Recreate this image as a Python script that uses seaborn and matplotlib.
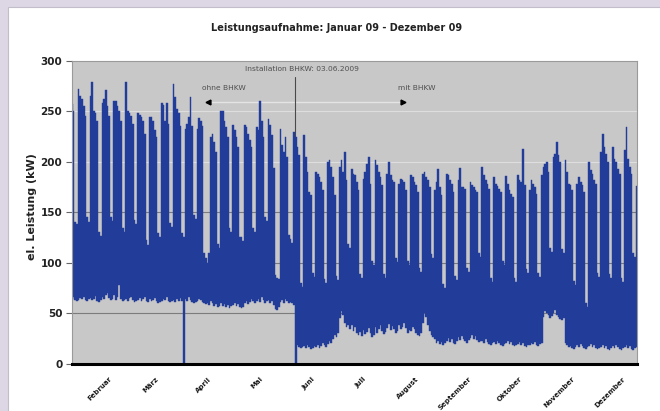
import pandas as pd
import numpy as np
import matplotlib
matplotlib.use("Agg")
import matplotlib.pyplot as plt
import seaborn as sns
from matplotlib.patches import Rectangle

# Tageswerte in kW, erster Tag: Do 22.01.2009
# ab der zweiten Zeile je Zeile eine Woche (Mo - So)
max_jan_mai = [
    257, 250, 140, 138,
    272, 265, 262, 255, 245, 145, 140,
    265, 279, 250, 248, 240, 130, 126,
    258, 262, 271, 255, 245, 145, 141,
    260, 260, 255, 250, 240, 134, 130,
    279, 250, 248, 245, 238, 142, 138,
    248, 246, 244, 240, 228, 122, 118,
    244, 244, 240, 232, 225, 129, 125,
    258, 256, 240, 258, 238, 139, 135,
    277, 264, 252, 248, 236, 129, 125,
    233, 238, 244, 264, 236, 147, 143,
    233, 243, 240, 236, 110, 105, 100,
    110, 225, 228, 220, 210, 119, 115,
    250, 250, 240, 235, 225, 134, 130,
    237, 232, 225, 215, 125, 125, 121,
    237, 235, 228, 222, 215, 134, 130,
    235, 232, 260, 240, 225, 145, 141,
    242, 237, 227, 194, 88, 85, 84,
    233, 217, 210, 225, 205, 127, 123,
]
max_jun_dez = [
    120, 230, 225, 215, 207, 80, 76,
    227, 205, 190, 170, 167, 90, 86,
    190, 188, 185, 180, 172, 84, 80,
    200, 202, 195, 185, 167, 87, 83,
    195, 202, 190, 210, 182, 119, 115,
    193, 188, 187, 180, 172, 89, 85,
    183, 190, 198, 205, 178, 102, 98,
    202, 197, 190, 185, 177, 89, 85,
    188, 200, 187, 182, 180, 105, 101,
    178, 183, 182, 180, 172, 102, 98,
    187, 185, 180, 177, 170, 95, 91,
    188, 190, 185, 182, 175, 109, 105,
    172, 180, 193, 175, 167, 79, 75,
    188, 187, 182, 178, 170, 87, 83,
    182, 194, 175, 175, 173, 95, 91,
    180, 177, 175, 172, 170, 110, 106,
    195, 187, 182, 178, 173, 85, 81,
    185, 178, 176, 173, 170, 102, 98,
    186, 178, 172, 168, 165, 85, 81,
    187, 182, 180, 213, 177, 94, 90,
    172, 182, 178, 175, 168, 90, 86,
    187, 195, 198, 200, 190, 115, 111,
    205, 208, 220, 207, 200, 114, 110,
    202, 190, 178, 177, 172, 82, 78,
    178, 185, 180, 177, 170, 60, 56,
    200, 192, 188, 182, 178, 90, 86,
    210, 228, 215, 208, 200, 89, 85,
    215, 203, 200, 193, 188, 85, 81,
    212, 235, 203, 195, 188, 110, 106,
    176,
]
min_jan_mai = [
    64, 66, 63, 62,
    63, 65, 64, 66, 63, 62, 64,
    65, 63, 64, 67, 62, 61, 63,
    66, 64, 68, 70, 65, 63, 64,
    68, 63, 66, 78, 64, 62, 63,
    64, 62, 65, 66, 63, 61, 62,
    63, 65, 62, 64, 66, 62, 61,
    64, 62, 63, 65, 62, 60, 61,
    62, 64, 63, 66, 62, 61, 62,
    63, 61, 64, 62, 65, 62, 0,   # 29.03. Zeitumstellung
    64, 62, 66, 63, 61, 60, 61,
    62, 64, 63, 61, 60, 59, 60,
    58, 62, 60, 57, 59, 56, 57,
    60, 57, 59, 56, 58, 55, 57,
    58, 60, 57, 59, 56, 55, 56,
    60, 62, 59, 61, 64, 62, 60,
    62, 64, 61, 66, 63, 60, 62,
    63, 60, 62, 58, 54, 53, 56,
    61, 63, 60, 64, 62, 60, 61,
]
min_jun_dez = [
    60, 58, 0, 18, 16, 15, 16,   # 03.06. Einbau BHKW
    17, 15, 18, 16, 14, 15, 17,
    16, 18, 15, 17, 20, 18, 16,
    19, 22, 20, 24, 28, 26, 30,
    45, 52, 48, 40, 36, 38, 34,
    38, 32, 36, 30, 28, 31, 27,
    33, 29, 31, 35, 30, 26, 28,
    36, 30, 34, 38, 32, 29, 31,
    35, 39, 33, 37, 34, 30, 32,
    38, 34, 36, 40, 35, 30, 33,
    32, 36, 34, 30, 28, 27, 30,
    40, 50, 46, 38, 32, 28, 26,
    24, 20, 22, 19, 21, 18, 20,
    22, 25, 21, 24, 20, 19, 22,
    26, 23, 27, 24, 22, 20, 23,
    25, 28, 24, 27, 23, 21, 22,
    22, 20, 24, 21, 19, 18, 20,
    21, 19, 22, 20, 18, 17, 19,
    20, 22, 19, 21, 18, 17, 18,
    19, 21, 18, 20, 17, 16, 18,
    18, 20, 19, 21, 18, 17, 19,
    20, 46, 52, 50, 48, 45, 47,
    50, 53, 48, 46, 44, 43, 45,
    20, 18, 16, 17, 15, 14, 16,
    18, 16, 19, 17, 15, 14, 16,
    17, 19, 16, 18, 15, 14, 15,
    16, 18, 15, 17, 14, 13, 15,
    17, 15, 18, 16, 14, 13, 15,
    16, 18, 15, 17, 14, 13, 15,
    16,
]

start = "2009-01-22"
installation = "2009-06-03"
monate = ["Februar", "März", "April", "Mai", "Juni", "Juli", "August",
          "September", "Oktober", "November", "Dezember"]
y_ticks = [0, 50, 100, 150, 200, 250, 300]

blau = "#223c99"
grau_bg = "#c8c8c8"

jahr0 = pd.Timestamp("2009-01-01")


def tag(d):
    # Tage seit 01.01.2009
    return (pd.Timestamp(d) - jahr0).days


tage = pd.date_range(start, periods=len(max_jan_mai) + len(max_jun_dez), freq="D")
df = pd.DataFrame({
    "tag": (tage - jahr0).days + 0.5,
    "max": max_jan_mai + max_jun_dez,
    "min": min_jan_mai + min_jun_dez,
})
df["spanne"] = df["max"] - df["min"]

sns.set_style("ticks")
plt.rcParams["font.family"] = ["DejaVu Sans"]

fig = plt.figure(figsize=(6.6, 4.11), dpi=100, facecolor="#ddd7e5")
# weisser Rahmen hinter dem Diagramm
fig.patches.append(Rectangle((8 / 660, -0.01), 1, 1.01 - 7 / 411, transform=fig.transFigure,
                             facecolor="white", edgecolor="#c2bec9", lw=0.8, zorder=-10))
ax = fig.add_axes([72 / 660, 1 - 363.5 / 411, 565 / 660, 302.5 / 411])
ax.set_facecolor(grau_bg)

# Gitterlinien hinter den Daten
for v in y_ticks[1:-1]:
    farbe = "#dedede" if v >= 200 else "#7c7c7c"
    ax.axhline(v, color=farbe, lw=0.8, zorder=1)

# Tagesbalken von Minimum bis Maximum
sns.barplot(data=df, x="tag", y="spanne", native_scale=True, width=1,
            bottom=df["min"].values, color=blau, saturation=1,
            edgecolor=blau, linewidth=0.3, errorbar=None, ax=ax, zorder=2)

# Markierung Installation BHKW
t_inst = tag(installation)
ax.plot([t_inst, t_inst], [0, 284], color="#4a4a4a", lw=0.8, zorder=1.5)
ax.text(tag("2009-06-07"), 292, "Installation BHKW: 03.06.2009", ha="center", va="center",
        fontsize=5.4, color="#505050")
ax.text(tag("2009-04-22"), 273, "ohne BHKW", ha="center", va="center", fontsize=5.4, color="#505050")
ax.text(tag("2009-08-14"), 273, "mit BHKW", ha="center", va="center", fontsize=5.4, color="#505050")
p_links, p_rechts = tag("2009-04-13"), tag("2009-08-06")
ax.plot([p_links, p_rechts], [259, 259], color="#e4e4e4", lw=1.0, zorder=1)
ax.plot(p_links, 259, marker="<", color="black", ms=3.5, zorder=3)
ax.plot(p_rechts, 259, marker=">", color="black", ms=3.5, zorder=3)

ax.set_xlim(21.6, 354.7)
ax.set_ylim(0, 300)

monat_pos = [tag(pd.Timestamp(2009, m, 13)) for m in range(2, 13)]
ax.set_xticks(monat_pos)
ax.set_xticklabels(monate, rotation=45, ha="right", va="top", rotation_mode="anchor",
                   fontsize=5, fontweight="bold", color="#1a1a1a")
ax.set_yticks(y_ticks)
ax.set_yticklabels([str(v) for v in y_ticks], fontsize=7.5, fontweight="bold", color="#222222")
ax.tick_params(axis="x", length=0, pad=9)
ax.tick_params(axis="y", length=4, width=0.8, color="#666666", pad=3)

for s in ["top", "right", "left"]:
    ax.spines[s].set_color("#9a9a9a")
    ax.spines[s].set_linewidth(0.8)
ax.spines["bottom"].set_color("black")
ax.spines["bottom"].set_linewidth(2.2)
ax.spines["bottom"].set_zorder(4)

ax.set_xlabel("")
ax.set_ylabel("el. Leistung (kW)", fontsize=8, fontweight="bold", color="#222222")
ax.yaxis.set_label_coords(-0.062, 0.52)

fig.text(337 / 660, 1 - 28 / 411, "Leistungsaufnahme: Januar 09 - Dezember 09",
         ha="center", va="center", fontsize=7, fontweight="bold", color="#222222")

fig.savefig("out.png", dpi=100)
